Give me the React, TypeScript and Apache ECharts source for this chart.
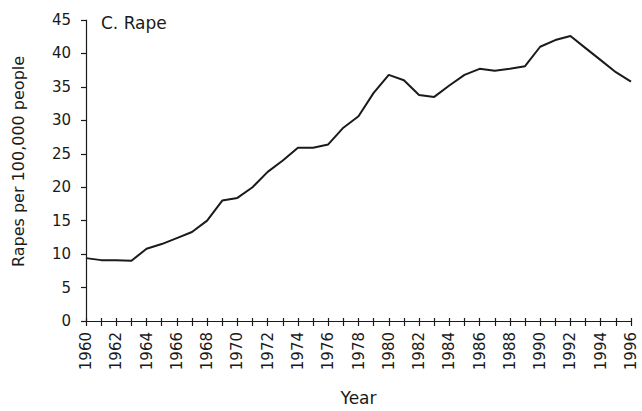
import React, { useEffect, useRef } from "react";
import * as echarts from "echarts";

const years: string[] = [
  "1960","1961","1962","1963","1964","1965","1966","1967","1968","1969",
  "1970","1971","1972","1973","1974","1975","1976","1977","1978","1979",
  "1980","1981","1982","1983","1984","1985","1986","1987","1988","1989",
  "1990","1991","1992","1993","1994","1995","1996",
];
const rapeRates: number[] = [
  9.4, 9.1, 9.1, 9.0, 10.8, 11.5, 12.4, 13.3, 15.0, 18.0,
  18.4, 20.0, 22.3, 24.0, 25.9, 25.9, 26.4, 28.9, 30.6, 34.1,
  36.8, 36.0, 33.8, 33.5, 35.2, 36.8, 37.7, 37.4, 37.7, 38.1,
  41.0, 42.0, 42.6, 40.8, 39.0, 37.2, 35.8,
];
const titleText = "C. Rape";
const yName = "Rapes per 100,000 people";
const xName = "Year";

const FONT = "'DejaVu Sans', Arial, sans-serif";
const INK = "#1a1a1a";

export default function App() {
  const ref = useRef<HTMLDivElement>(null);
  useEffect(() => {
    if (!ref.current) return;
    const chart = echarts.init(ref.current, undefined, { renderer: "svg" });
    chart.setOption({
      animation: false,
      backgroundColor: "#ffffff",
      textStyle: { fontFamily: FONT, color: INK },
      title: {
        text: titleText,
        left: 96,
        top: 9,
        textStyle: { fontFamily: FONT, fontSize: 17, fontWeight: "normal", color: INK },
      },
      grid: { left: 86, right: 11, top: 20, bottom: 87, containLabel: false },
      xAxis: [
        {
          type: "category",
          data: years,
          boundaryGap: false,
          name: xName,
          nameLocation: "middle",
          nameGap: 68,
          nameTextStyle: { fontFamily: FONT, fontSize: 17, color: INK },
          axisLine: { show: true, lineStyle: { color: INK, width: 1.2 } },
          axisTick: { show: true, interval: 0, length: 5, lineStyle: { color: INK, width: 1.2 } },
          axisLabel: {
            interval: 1,
            rotate: 90,
            margin: 11,
            fontFamily: FONT,
            fontSize: 15,
            color: INK,
          },
          splitLine: { show: false },
        },
        {
          type: "category",
          data: years,
          boundaryGap: false,
          position: "bottom",
          axisLine: { show: false },
          axisTick: { show: true, inside: true, interval: 0, length: 3, lineStyle: { color: INK, width: 1.2 } },
          axisLabel: { show: false },
          splitLine: { show: false },
        },
      ],
      yAxis: {
        type: "value",
        min: 0,
        max: 45,
        interval: 5,
        name: yName,
        nameLocation: "middle",
        nameGap: 60,
        nameRotate: 90,
        nameTextStyle: { fontFamily: FONT, fontSize: 16, color: INK, padding: [0, 0, 0, 18] },
        axisLine: { show: true, lineStyle: { color: INK, width: 1.2 } },
        axisTick: { show: true, length: 5, lineStyle: { color: INK, width: 1.2 } },
        axisLabel: { margin: 15, fontFamily: FONT, fontSize: 15, color: INK },
        splitLine: { show: false },
      },
      series: [
        {
          type: "line",
          data: rapeRates,
          xAxisIndex: 0,
          showSymbol: false,
          symbol: "none",
          lineStyle: { color: INK, width: 2 },
        },
      ],
    });
    return () => chart.dispose();
  }, []);
  return (
    <div
      ref={ref}
      style={{ position: "absolute", left: 0, top: 0, width: 642, height: 411 }}
    />
  );
}
